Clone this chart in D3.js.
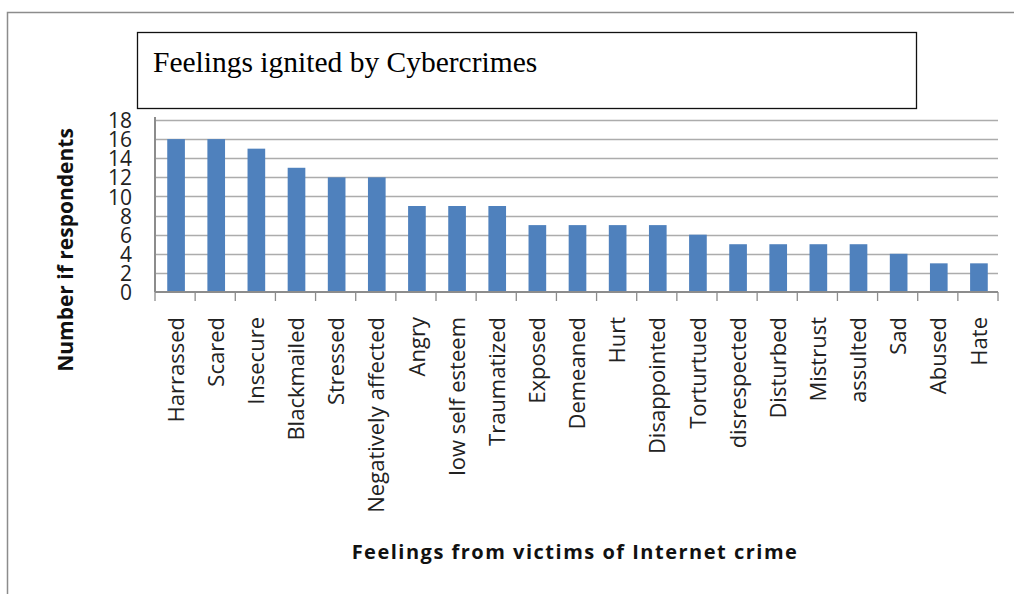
<!DOCTYPE html>
<html><head><meta charset="utf-8">
<script src="https://cdn.jsdelivr.net/npm/d3@7"></script>
<style>body{margin:0;background:#fff}svg{display:block}</style>
</head><body>
<svg id="c" width="1014" height="594"></svg>
<script>
const categories = ["Harrassed","Scared","Insecure","Blackmailed","Stressed","Negatively affected","Angry","low self esteem","Traumatized","Exposed","Demeaned","Hurt","Disappointed","Torturtued","disrespected","Disturbed","Mistrust","assulted","Sad","Abused","Hate"];
const values = [16,16,15,13,12,12,9,9,9,7,7,7,7,6,5,5,5,5,4,3,3];
const yTicks = [0,2,4,6,8,10,12,14,16,18];
const chartTitle = "Feelings ignited by Cybercrimes";
const xTitle = "Feelings from victims of Internet crime";
const yTitle = "Number if respondents";

(function(){
const svg = d3.select("#c");
svg.append("path").attr("d","M7.5,594 V12.5 H1014").attr("fill","none").attr("stroke","#8c8c8c").attr("stroke-width",1.5);

const pL = 155, pR = 998, pT = 120, pB = 292;
const x = d3.scaleBand().domain(categories).range([pL, pR]).paddingInner(0.56).paddingOuter(0.28);
const y = d3.scaleLinear().domain([0,18]).range([pB, pT]);

svg.append("g").selectAll("line").data(yTicks.filter(d=>d>0)).join("line")
  .attr("x1",pL).attr("x2",pR).attr("y1",d=>Math.round(y(d))+0.5).attr("y2",d=>Math.round(y(d))+0.5)
  .attr("stroke","#acacac").attr("stroke-width",1.3);

svg.append("g").selectAll("rect").data(values).join("rect")
  .attr("x",(d,i)=>x(categories[i])+1).attr("width",x.bandwidth())
  .attr("y",d=>y(d)).attr("height",d=>y(0)-y(d)).attr("fill","#4f81bd");

const yAxis = d3.axisLeft(y).tickValues(yTicks).tickSize(0).tickPadding(23);
const ga = svg.append("g").attr("transform",`translate(${pL},0)`).call(yAxis);
ga.select(".domain").attr("stroke","#8c8c8c").attr("stroke-width",2).attr("d",`M0,${pT-3}V${pB}`);
ga.selectAll("text").attr("font-family","'Open Sans', sans-serif").attr("font-size",21).attr("fill","#222").attr("dy","0.36em");

const xa = svg.append("g").attr("transform",`translate(0,${pB})`);
xa.append("line").attr("x1",pL).attr("x2",pR).attr("stroke","#8c8c8c").attr("stroke-width",2);
const bounds = d3.range(categories.length+1).map(i=>pL + i*(pR-pL)/categories.length);
xa.selectAll("line.t").data(bounds).join("line").attr("class","t")
  .attr("x1",d=>d).attr("x2",d=>d).attr("y1",0).attr("y2",9).attr("stroke","#8c8c8c").attr("stroke-width",1.3);
const xAxis = d3.axisBottom(x).tickSize(0).tickPadding(0);
const gx = svg.append("g").attr("transform",`translate(1,${pB})`).call(xAxis);
gx.select(".domain").remove();
gx.selectAll("text").attr("font-family","'Open Sans', sans-serif").attr("font-size",22).attr("fill","#222")
  .attr("text-anchor","end").attr("transform","translate(0,25) rotate(-90)").attr("x",0).attr("y",0).attr("dy","0.35em");

svg.append("rect").attr("x",137.5).attr("y",32.5).attr("width",779).attr("height",76).attr("fill","#fff").attr("stroke","#111").attr("stroke-width",1.3);
svg.append("text").attr("x",153).attr("y",72).text(chartTitle)
  .attr("font-family","'Liberation Serif', serif").attr("font-size",29.5).attr("fill","#000");

svg.append("text").attr("transform","translate(73,250) rotate(-90)").attr("text-anchor","middle").text(yTitle)
  .attr("font-family","'Open Sans', sans-serif").attr("font-weight","bold").attr("font-size",21).attr("fill","#111");
svg.append("text").attr("x",575).attr("y",559).attr("text-anchor","middle").text(xTitle)
  .attr("font-family","'Open Sans', sans-serif").attr("font-weight","bold").attr("font-size",20).attr("letter-spacing",1.5).attr("fill","#111");
})();
</script>
</body></html>
